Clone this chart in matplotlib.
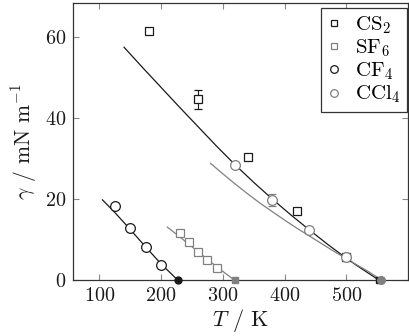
import matplotlib
matplotlib.use("Agg")
import matplotlib.pyplot as plt
from matplotlib.lines import Line2D

plt.rcParams['font.family'] = 'serif'
plt.rcParams['font.serif'] = ['cmr10']
plt.rcParams['mathtext.fontset'] = 'cm'
plt.rcParams['axes.formatter.use_mathtext'] = True

BLACK = '#1a1a1a'
GRAY = '#808080'

# measured points
cs2_T = [180, 260, 340, 420, 500]
cs2_g = [61.3, 44.6, 30.4, 17.1, 5.6]
cs2_err = [0, 2.3, 0, 0, 0]

sf6_T = [230, 245, 260, 275, 290]
sf6_g = [11.6, 9.3, 6.9, 4.9, 2.9]

cf4_T = [125, 150, 175, 200]
cf4_g = [18.4, 12.9, 8.2, 3.8]

ccl4_T = [320, 380, 440, 500]
ccl4_g = [28.4, 19.7, 12.3, 5.6]
ccl4_err = [0, 1.5, 0, 0]

# critical points
tc_cs2, tc_sf6, tc_cf4, tc_ccl4 = 552, 319, 227, 556

# fitted curves
cs2_fit_T = [140, 170, 200, 230, 260, 290, 320, 350, 380, 410, 440, 470, 500, 520, 535, 545, 552]
cs2_fit_g = [57.4, 52.4, 47.5, 42.6, 37.8, 33.0, 28.4, 24.1, 20.0, 16.1, 12.4, 8.8, 5.4, 3.3, 1.8, 0.8, 0]

ccl4_fit_T = [280, 300, 320, 340, 360, 380, 400, 420, 440, 460, 480, 500, 520, 535, 545, 552, 556]
ccl4_fit_g = [28.8, 26.2, 23.7, 21.3, 19.0, 16.9, 14.8, 12.8, 10.9, 9.0, 7.1, 5.3, 3.5, 2.2, 1.2, 0.5, 0]

cf4_fit_T = [105, 125, 150, 175, 200, 215, 227]
cf4_fit_g = [19.8, 16.7, 12.5, 8.2, 4.0, 1.8, 0]

sf6_fit_T = [210, 230, 260, 290, 319]
sf6_fit_g = [13.1, 10.7, 7.0, 3.3, 0]

fig = plt.figure(figsize=(4.09, 3.36), dpi=100)
ax = fig.add_axes([0.178, 0.166, 0.82, 0.825])

lw = 0.9
ax.plot(cs2_fit_T, cs2_fit_g, color=BLACK, lw=lw)
ax.plot(ccl4_fit_T, ccl4_fit_g, color=GRAY, lw=lw)
ax.plot(cf4_fit_T, cf4_fit_g, color=BLACK, lw=lw)
ax.plot(sf6_fit_T, sf6_fit_g, color=GRAY, lw=lw)

ms = 6
ax.errorbar(cs2_T, cs2_g, yerr=cs2_err, fmt='s', ms=ms, mfc='white', mec=BLACK,
            mew=0.9, ecolor=BLACK, elinewidth=0.8, capsize=3, zorder=3)
ax.plot(sf6_T, sf6_g, 's', ms=ms, mfc='white', mec=GRAY, mew=0.9, zorder=3)
ax.plot(cf4_T, cf4_g, 'o', ms=ms + 1, mfc='white', mec=BLACK, mew=0.9, zorder=3)
ax.errorbar(ccl4_T, ccl4_g, yerr=ccl4_err, fmt='o', ms=ms + 1, mfc='white', mec=GRAY,
            mew=0.9, ecolor=GRAY, elinewidth=0.8, capsize=3, zorder=3)

ax.plot([tc_cf4], [0], 'o', ms=5, color=BLACK, clip_on=False, zorder=4)
ax.plot([tc_sf6], [0], 's', ms=5, color=GRAY, clip_on=False, zorder=4)
ax.plot([tc_cs2], [0], 's', ms=5, color=BLACK, clip_on=False, zorder=4)
ax.plot([tc_ccl4], [0], 'o', ms=5.5, color=GRAY, clip_on=False, zorder=4)

ax.set_xlim(57, 600)
ax.set_ylim(0, 68.3)
ax.set_xticks([100, 200, 300, 400, 500])
ax.set_yticks([0, 20, 40, 60])
ax.tick_params(direction='in', top=True, right=True, length=4, width=0.8,
               color='#888888', labelsize=14.5, labelcolor=BLACK, pad=5)
for s in ax.spines.values():
    s.set_color('#333333')
    s.set_linewidth(0.9)

ax.set_xlabel('$T$ / K', fontsize=16, color=BLACK, labelpad=1)
ax.set_ylabel('$\\gamma$ / mN m$^{-1}$', fontsize=15.5, color=BLACK, labelpad=4)

handles = [
    Line2D([], [], ls='none', marker='s', ms=5, mfc='white', mec=BLACK, mew=0.9),
    Line2D([], [], ls='none', marker='s', ms=5, mfc='white', mec=GRAY, mew=0.9),
    Line2D([], [], ls='none', marker='o', ms=5.5, mfc='white', mec=BLACK, mew=0.9),
    Line2D([], [], ls='none', marker='o', ms=5.5, mfc='white', mec=GRAY, mew=0.9),
]
labels = ['CS$_2$', 'SF$_6$', 'CF$_4$', 'CCl$_4$']
leg = ax.legend(handles, labels, loc='upper right', bbox_to_anchor=(0.995, 0.982),
                fontsize=15, frameon=True, fancybox=False,
                edgecolor='#333333', framealpha=1, handlelength=0.6, handletextpad=0.7,
                borderpad=0.3, labelspacing=0.08, borderaxespad=0)
leg.get_frame().set_linewidth(0.9)

fig.savefig('out.png', dpi=100)
